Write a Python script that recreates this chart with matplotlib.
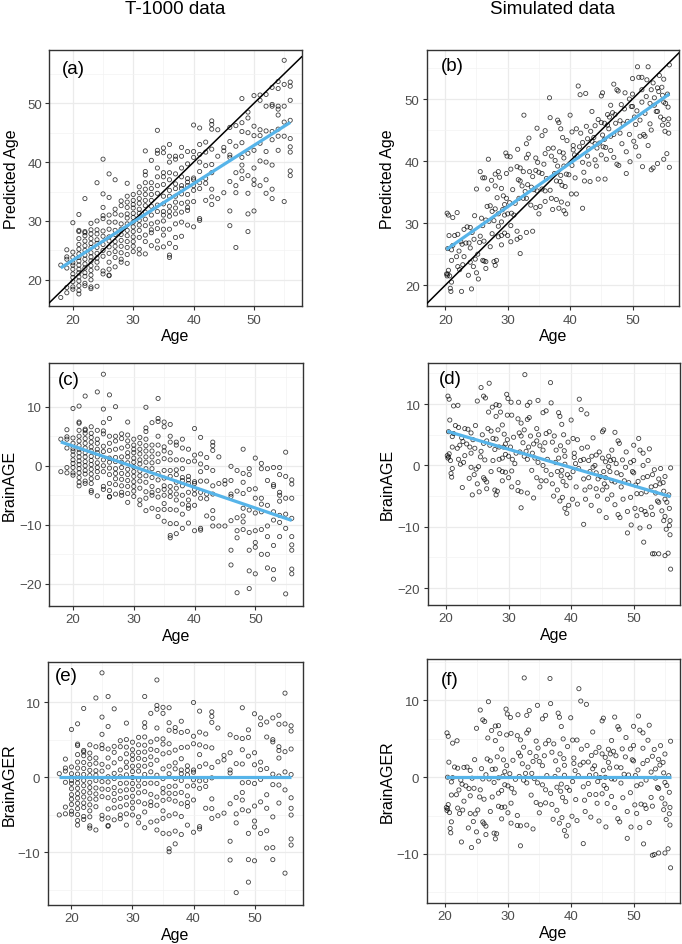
import numpy as np
import matplotlib
matplotlib.use("Agg")
import matplotlib.pyplot as plt
from matplotlib.ticker import MultipleLocator

plt.rcParams['font.family'] = ['Liberation Sans', 'DejaVu Sans']

# T-1000 data: age (integer years) and BrainAGE (predicted - age)
t1000_age = [
    18, 18,
    19, 19, 19, 19, 19, 19,
    20, 20, 20, 20, 20, 20, 20, 20, 20, 20, 20,
    21, 21, 21, 21, 21, 21, 21, 21, 21, 21, 21, 21, 21, 21, 21, 21, 21,
    22, 22, 22, 22, 22, 22, 22, 22, 22, 22, 22, 22, 22, 22, 22,
    23, 23, 23, 23, 23, 23, 23, 23, 23, 23, 23, 23, 23, 23, 23,
    24, 24, 24, 24, 24, 24, 24, 24, 24, 24, 24, 24,
    25, 25, 25, 25, 25, 25, 25, 25, 25, 25, 25, 25,
    26, 26, 26, 26, 26, 26, 26, 26, 26, 26, 26, 26, 26,
    27, 27, 27, 27, 27, 27, 27, 27, 27, 27, 27,
    28, 28, 28, 28, 28, 28, 28, 28, 28, 28, 28,
    29, 29, 29, 29, 29, 29, 29, 29, 29, 29, 29, 29, 29,
    30, 30, 30, 30, 30, 30, 30, 30, 30, 30, 30, 30, 30,
    31, 31, 31, 31, 31, 31, 31, 31, 31, 31, 31, 31,
    32, 32, 32, 32, 32, 32, 32, 32, 32, 32, 32, 32, 32, 32,
    33, 33, 33, 33, 33, 33, 33, 33, 33, 33, 33,
    34, 34, 34, 34, 34, 34, 34, 34, 34, 34, 34, 34, 34,
    35, 35, 35, 35, 35, 35, 35, 35, 35, 35, 35, 35, 35,
    36, 36, 36, 36, 36, 36, 36, 36, 36, 36, 36, 36, 36, 36,
    37, 37, 37, 37, 37, 37, 37, 37, 37, 37, 37, 37,
    38, 38, 38, 38, 38, 38, 38, 38, 38, 38, 38,
    39, 39, 39, 39, 39, 39, 39, 39, 39, 39,
    40, 40, 40, 40, 40, 40, 40, 40, 40,
    41, 41, 41, 41, 41, 41, 41, 41, 41,
    42, 42, 42, 42, 42, 42,
    43, 43, 43, 43, 43, 43, 43, 43, 43,
    44, 44, 44,
    45, 45, 45,
    46, 46, 46, 46, 46, 46, 46,
    47, 47, 47, 47, 47, 47,
    48, 48, 48, 48, 48, 48, 48, 48,
    49, 49, 49, 49, 49, 49, 49, 49,
    50, 50, 50, 50, 50, 50, 50, 50,
    51, 51, 51, 51, 51, 51, 51,
    52, 52, 52, 52, 52, 52, 52,
    53, 53, 53, 53, 53, 53, 53, 53,
    54, 54, 54, 54, 54, 54, 54, 54,
    55, 55, 55, 55, 55, 55,
    56, 56, 56, 56, 56, 56, 56, 56, 56,
]
t1000_brainage = [
    4.5, -1.0,
    6.1, 4.9, 4.5, 3.0, -0.3, -1.2,
    9.7, 4.7, 3.8, 2.9, 2.5, 1.8, 1.0, 0.4, -0.3, -1.2, -1.6,
    10.1, 7.4, 7.2, 6.0, 5.0, 4.2, 3.4, 2.8, 2.2, 1.5, 0.8, 0.2, -0.5, -1.2, -2.0, -2.8, -3.4,
    11.8, 6.2, 6.0, 5.5, 4.6, 3.8, 3.0, 2.2, 1.5, 0.7, 0.0, -0.8, -1.4, -2.6, -3.0,
    6.6, 5.5, 4.8, 4.0, 3.2, 2.5, 1.6, 0.9, 0.2, -0.6, -1.4, -2.2, -3.0, -4.2, -4.5,
    12.5, 6.0, 4.5, 3.8, 2.8, 2.2, 1.5, 0.5, -0.3, -1.0, -2.0, -5.1,
    15.5, 9.6, 7.3, 5.9, 5.4, 3.3, 2.4, 1.0, 0.0, -1.0, -3.5, -4.0,
    12.0, 8.0, 5.0, 3.8, 2.6, 1.3, 0.6, -0.4, -1.5, -3.0, -4.2, -5.2, -5.3,
    10.0, 5.0, 4.2, 2.8, 1.4, 0.7, -0.5, -1.3, -2.2, -3.2, -4.8,
    5.4, 4.6, 3.0, 1.5, 0.6, -0.3, -1.3, -2.3, -3.4, -4.5, -5.0,
    7.4, 5.2, 4.2, 3.3, 2.2, 1.5, 0.5, -0.6, -1.5, -2.5, -3.5, -4.7, -6.2,
    4.5, 3.5, 2.8, 2.2, 1.3, 0.6, -0.2, -1.0, -1.8, -2.7, -3.5, -4.3, -5.2,
    4.8, 3.8, 2.8, 2.0, 1.0, 0.3, -0.9, -1.7, -2.6, -3.8, -5.8, -6.6,
    9.9, 6.4, 5.8, 4.5, 3.4, 2.5, 1.5, 0.6, -0.5, -1.7, -2.8, -4.4, -5.5, -7.6,
    7.3, 3.5, 2.5, 1.5, 0.5, -0.5, -2.0, -3.5, -4.5, -5.0, -7.2,
    11.4, 8.0, 7.5, 5.0, 3.5, 2.0, 0.7, -1.3, -2.4, -4.2, -5.3, -7.4, -8.6,
    7.4, 6.6, 3.2, 2.5, 1.2, -0.8, -2.1, -3.4, -4.0, -5.0, -6.4, -7.4, -9.4,
    7.0, 5.0, 4.0, 2.2, 1.0, -0.8, -1.8, -3.5, -4.4, -5.2, -7.4, -9.8, -11.8, -12.2,
    4.0, 3.5, 1.0, -0.7, -1.5, -2.8, -3.8, -4.8, -5.8, -7.5, -9.8, -11.5,
    4.5, 3.0, 1.0, -0.5, -2.0, -2.5, -3.4, -5.0, -6.5, -8.2, -10.6,
    2.8, 0.7, -1.8, -2.4, -3.0, -4.5, -5.8, -6.7, -7.2, -9.7,
    6.3, 1.8, 0.8, -2.7, -3.0, -4.0, -4.8, -6.7, -11.0,
    4.8, 2.0, 0.3, -1.0, -2.6, -4.5, -5.5, -10.6, -10.9,
    1.4, -0.3, -2.6, -4.8, -5.6, -8.5,
    4.0, 3.4, 2.6, -0.8, -3.4, -4.8, -7.6, -8.9, -10.2,
    1.5, -3.0, -10.2,
    -2.5, -3.1, -10.2,
    -0.1, -2.5, -4.8, -5.2, -9.3, -14.3, -16.8,
    -0.8, -4.3, -8.8, -11.0, -12.2, -21.5,
    2.8, -1.3, -2.8, -4.7, -7.2, -8.5, -9.5, -10.8,
    -0.5, -1.5, -4.0, -7.5, -11.3, -14.3, -17.8, -20.8,
    1.3, -3.9, -5.5, -8.0, -11.0, -13.0, -13.8, -18.3,
    0.4, -0.5, -5.5, -6.5, -7.8, -10.8, -15.0,
    -0.5, -2.5, -6.7, -10.2, -12.0, -15.0, -17.3,
    -0.3, -3.2, -3.5, -7.8, -9.2, -13.5, -17.6, -19.2,
    -0.3, -1.5, -4.5, -5.0, -6.0, -8.4, -9.6, -12.0,
    2.3, -1.8, -5.5, -8.2, -10.6, -21.7,
    -2.4, -3.1, -5.5, -8.9, -12.0, -13.4, -14.3, -17.5, -18.3,
]

# Simulated data: age and BrainAGE
sim_age = [
    20.3, 20.5, 20.6, 20.4, 20.2, 20.3, 20.5, 20.7, 20.4, 20.8,
    20.9, 21.0, 21.2, 21.0, 21.2, 21.9, 21.5, 22.0, 21.8, 22.3,
    22.8, 22.6, 23.0, 23.3, 22.7, 22.2, 23.5, 24.0, 24.0, 24.3,
    24.7, 25.0, 25.6, 26.0, 26.3, 26.9, 26.8, 27.4, 28.0, 28.5,
    28.0, 28.7, 25.6, 26.0, 26.5, 27.5, 28.0, 28.5, 26.2, 27.5,
    25.5, 24.8, 25.2, 26.2, 26.5, 26.5, 27.8, 28.0, 28.2, 29.0,
    29.3, 29.5, 29.7, 29.9, 30.4, 31.6, 30.5, 29.8, 31.5, 29.5,
    30.0, 29.0, 28.5, 29.0, 29.5, 30.5, 31.0, 30.0, 31.5, 31.5,
    32.0, 32.0, 32.6, 33.0, 33.4, 33.3, 33.0, 32.0, 32.5, 32.0,
    32.3, 32.8, 31.8, 32.5, 33.0, 33.5, 34.0, 34.5, 34.5, 35.0,
    34.7, 35.5, 35.5, 36.0, 36.0, 36.5, 36.7, 36.8, 36.0, 35.5,
    34.7, 36.2, 36.0, 36.8, 37.0, 35.2, 37.3, 37.0, 23.7, 24.5,
    25.0, 24.2, 25.3, 21.0, 27.0, 27.8, 28.5, 29.2, 37.5, 37.8,
    38.5, 39.0, 39.4, 37.6, 37.2, 37.8, 22.5, 23.8, 24.6, 25.8,
    26.7, 27.2, 28.3, 29.8, 30.3, 30.8, 31.2, 31.7, 33.2, 33.8,
    34.2, 34.8, 35.8, 30.6, 29.0, 27.2, 33.7, 34.5, 35.0, 33.0,
    34.0, 30.5, 26.0, 24.0, 22.0, 23.0, 38.0, 38.2, 38.5, 38.8,
    38.3, 38.9, 38.0, 39.0, 38.4, 38.7, 39.2, 38.6, 38.2, 39.0,
    39.3, 39.6, 39.8, 39.5, 40.0, 40.3, 40.5, 40.5, 40.3, 40.8,
    40.2, 41.0, 41.0, 41.3, 41.6, 41.7, 42.0, 42.0, 42.2, 42.3,
    42.5, 42.6, 42.8, 43.0, 43.0, 43.2, 42.0, 43.5, 43.5, 43.8,
    44.0, 44.0, 44.2, 44.5, 44.0, 44.5, 45.0, 45.2, 45.0, 45.2,
    45.5, 45.3, 45.0, 45.7, 45.8, 45.6, 46.0, 46.0, 46.3, 46.5,
    46.8, 46.5, 47.0, 47.0, 47.5, 47.7, 47.0, 47.5, 47.8, 48.0,
    48.0, 48.3, 48.5, 48.8, 49.0, 49.0, 49.5, 49.6, 49.8, 50.0,
    50.0, 50.3, 50.5, 50.5, 50.2, 50.8, 51.0, 51.0, 51.2, 51.2,
    51.5, 51.6, 51.8, 51.5, 52.0, 52.0, 52.2, 52.5, 52.5, 52.8,
    52.8, 53.0, 53.0, 53.3, 53.3, 53.5, 53.8, 54.0, 54.0, 54.2,
    54.3, 54.5, 54.8, 54.8, 55.0, 55.0, 55.2, 55.3, 55.0, 55.6,
    55.7, 55.8, 55.9, 55.7, 55.9, 55.8, 55.5, 40.7, 41.2, 41.5,
    42.8, 43.3, 44.3, 44.7, 45.5, 46.2, 46.5, 47.2, 47.3, 48.2,
    48.7, 49.2, 49.5, 50.0, 50.7, 51.5, 52.3, 53.0, 53.5, 54.0,
    54.7, 55.0,
]
sim_brainage = [
    11.3, 10.8, 7.4, 5.5, 1.6, 1.2, 1.9, 0.8, 1.4, -1.3,
    -1.9, 4.7, 5.2, 3.0, 9.7, 9.8, 6.5, 6.2, 2.8, 0.2,
    0.5, -3.6, 6.0, 3.5, 3.9, 3.3, 5.9, 5.3, 2.0, 4.2,
    6.5, 10.5, 12.7, 11.3, 11.0, 13.4, 8.7, 9.5, 9.9, 9.8,
    8.0, 8.7, 2.3, 3.6, 4.0, 4.4, 4.3, 3.0, 0.9, 0.8,
    1.4, -0.6, -0.2, -2.3, -2.7, -3.8, -4.0, -4.8, -4.2, 6.6,
    5.1, 3.5, 11.6, 10.9, 10.3, 10.3, 8.2, 8.2, 7.6, 1.8,
    1.5, 1.2, -0.7, -1.0, -1.1, -0.9, 0.3, -2.0, -2.8, -4.1,
    -4.3, -6.9, 14.8, 9.8, 10.3, 7.8, 7.5, 6.9, 5.8, 4.8,
    3.7, 2.3, 2.2, 1.5, 1.0, 4.8, 3.5, 4.0, 6.0, 3.2,
    0.5, 0.0, 2.5, -2.5, 5.2, 5.5, 13.5, 10.2, 8.9, 8.6,
    10.6, 1.0, -0.8, -1.5, -3.0, -2.5, 4.8, 3.8, -2.1, -1.5,
    -3.0, -4.8, -4.3, -0.5, 3.3, 2.6, 1.0, 3.0, 0.5, -1.0,
    -0.8, 1.5, -1.5, 2.5, -5.0, -4.0, 4.5, 3.0, 2.8, 5.0,
    6.0, 5.6, 5.8, 4.2, 3.0, 4.6, 2.0, 5.3, 3.0, 2.0,
    1.2, 5.0, 3.7, 1.0, -2.5, -1.0, -0.8, -2.0, -3.5, -4.5,
    -5.3, -3.5, -2.0, -0.3, 1.0, 1.6, 8.6, 8.0, 6.7, 5.0,
    3.2, 2.4, 1.2, 0.2, -1.7, -2.6, -3.3, -5.2, -5.8, -7.0,
    -7.8, -6.5, -2.0, 3.8, 7.4, 4.4, 2.0, 1.3, -1.0, -3.5,
    -5.5, -6.3, 4.2, 10.8, 9.1, 2.8, 1.0, -2.2, -4.0, -5.5,
    8.4, 3.0, 0.8, -1.0, -3.5, -6.5, -9.6, -0.3, 4.5, 0.0,
    1.7, -3.8, -5.0, -7.4, -1.2, 2.2, 5.5, 5.8, 1.2, -1.0,
    -2.0, -3.0, -4.0, -3.5, -5.5, -8.5, -0.2, 1.5, 0.8, -4.8,
    1.0, 2.5, -2.7, -6.4, 4.0, 3.6, 5.4, -8.0, -8.5, -1.5,
    -3.5, -5.5, -2.5, 2.2, -7.5, -11.0, -5.2, -9.7, -1.0, 0.8,
    3.3, -3.2, -4.6, -8.2, -7.0, 4.4, 2.5, -10.2, -7.2, -4.6,
    0.0, -12.5, -7.5, -2.0, -4.3, -8.0, -1.8, -10.0, 2.7, -3.5,
    -6.8, -8.0, -14.4, -14.4, -0.7, -4.5, -5.8, -14.4, -2.2, -3.0,
    -0.5, -7.4, -4.2, -9.0, -8.3, -14.7, -10.4, -6.0, -1.8, -4.8,
    -7.0, -11.3, -16.9, -9.8, -0.4, -9.0, -14.3, 0.3, -0.5, 0.8,
    -2.0, 1.5, -2.2, -1.8, 0.6, -1.0, -2.5, 0.3, -1.2, 0.9,
    -0.3, -2.8, 0.5, -1.2, -2.6, 2.0, 0.8, -1.5, -3.3, -6.0,
    -2.8, -5.5,
]

assert len(t1000_age) == len(t1000_brainage)
assert len(sim_age) == len(sim_brainage)

W, H = 682, 945
BLUE = '#56B4E9'


def derive(age, brainage):
    age = np.asarray(age, float)
    bage = np.asarray(brainage, float)
    pred = age + bage
    coef = np.polyfit(age, bage, 1)
    resid = bage - np.polyval(coef, age)
    return age, pred, bage, resid


def pos(left, right, top, bottom):
    return [left / W, 1 - bottom / H, (right - left) / W, (bottom - top) / H]


def style(ax, xlim, ylim, ymajor, ylabel, ylab_x, tag, tagx, tagy):
    ax.set_xlim(*xlim)
    ax.set_ylim(*ylim)
    ax.xaxis.set_major_locator(MultipleLocator(10))
    ax.xaxis.set_minor_locator(MultipleLocator(5))
    ax.yaxis.set_major_locator(MultipleLocator(ymajor))
    ax.yaxis.set_minor_locator(MultipleLocator(ymajor / 2))
    ax.grid(which='major', color='#EBEBEB', lw=0.9)
    ax.grid(which='minor', color='#F3F3F3', lw=0.5)
    ax.set_axisbelow(True)
    for s in ax.spines.values():
        s.set_color('#333333')
        s.set_linewidth(1.0)
    ax.tick_params(which='major', length=2.8, width=0.8, color='#333333',
                   labelsize=9.5, labelcolor='#4D4D4D', pad=2.5)
    ax.tick_params(which='minor', length=0)
    ax.set_xlabel('Age', fontsize=11.5, labelpad=2)
    ax.set_ylabel(ylabel, fontsize=11.5, va='center')
    ax.yaxis.set_label_coords(ylab_x, 0.5)
    ax.text(tagx, tagy, tag, transform=ax.transAxes, fontsize=13.5,
            ha='left', va='center')


def points(ax, x, y):
    ax.scatter(x, y, s=9, facecolors='none', edgecolors='black',
               linewidths=0.6, alpha=0.75, zorder=2)


def fitline(ax, x, y):
    coef = np.polyfit(x, y, 1)
    xs = np.array([x.min(), x.max()])
    ax.plot(xs, np.polyval(coef, xs), color=BLUE, lw=2.3, zorder=4,
            solid_capstyle='butt')


fig = plt.figure(figsize=(W / 100, H / 100), dpi=100)

t_age, t_pred, t_bage, t_resid = derive(t1000_age, t1000_brainage)
s_age, s_pred, s_bage, s_resid = derive(sim_age, sim_brainage)

xl_t = (16.1, 57.9)
xl_s = (17.07, 57.4)

# (a)
ax = fig.add_axes(pos(49.3, 301.7, 50.7, 307.3))
points(ax, t_age, t_pred)
ax.axline((0, 0), slope=1, color='black', lw=1.1, zorder=3)
fitline(ax, t_age, t_pred)
style(ax, xl_t, (15.5, 59.1), 10, 'Predicted Age', -0.149, '(a)', 0.05, 0.925)

# (b)
ax = fig.add_axes(pos(427, 678.7, 50.7, 307.3))
points(ax, s_age, s_pred)
ax.axline((0, 0), slope=1, color='black', lw=1.1, zorder=3)
fitline(ax, s_age, s_pred)
style(ax, xl_s, (16.6, 57.95), 10, 'Predicted Age', -0.156, '(b)', 0.056, 0.938)

# (c)
ax = fig.add_axes(pos(49.3, 303.3, 364, 606.7))
points(ax, t_age, t_bage)
fitline(ax, t_age, t_bage)
style(ax, xl_t, (-23.7, 17.4), 10, 'BrainAGE', -0.159, '(c)', 0.032, 0.934)

# (d)
ax = fig.add_axes(pos(427.7, 680, 364, 605.7))
points(ax, s_age, s_bage)
fitline(ax, s_age, s_bage)
style(ax, xl_s, (-22.7, 16.7), 10, 'BrainAGE', -0.159, '(d)', 0.046, 0.934)

# (e)
ax = fig.add_axes(pos(47.7, 302.7, 662.7, 905.7))
points(ax, t_age, t_resid)
fitline(ax, t_age, t_resid)
style(ax, xl_t, (-17.0, 15.4), 10, 'BrainAGER', -0.152, '(e)', 0.029, 0.945)

# (f)
ax = fig.add_axes(pos(426.7, 680, 660, 904))
points(ax, s_age, s_resid)
fitline(ax, s_age, s_resid)
style(ax, xl_s, (-16.4, 15.4), 10, 'BrainAGER', -0.154, '(f)', 0.054, 0.918)

fig.text(175.5 / W, 1 - 9 / H, 'T-1000 data', ha='center', va='center', fontsize=13.5)
fig.text(553 / W, 1 - 9 / H, 'Simulated data', ha='center', va='center', fontsize=13.5)

fig.savefig('out.png', dpi=100)
